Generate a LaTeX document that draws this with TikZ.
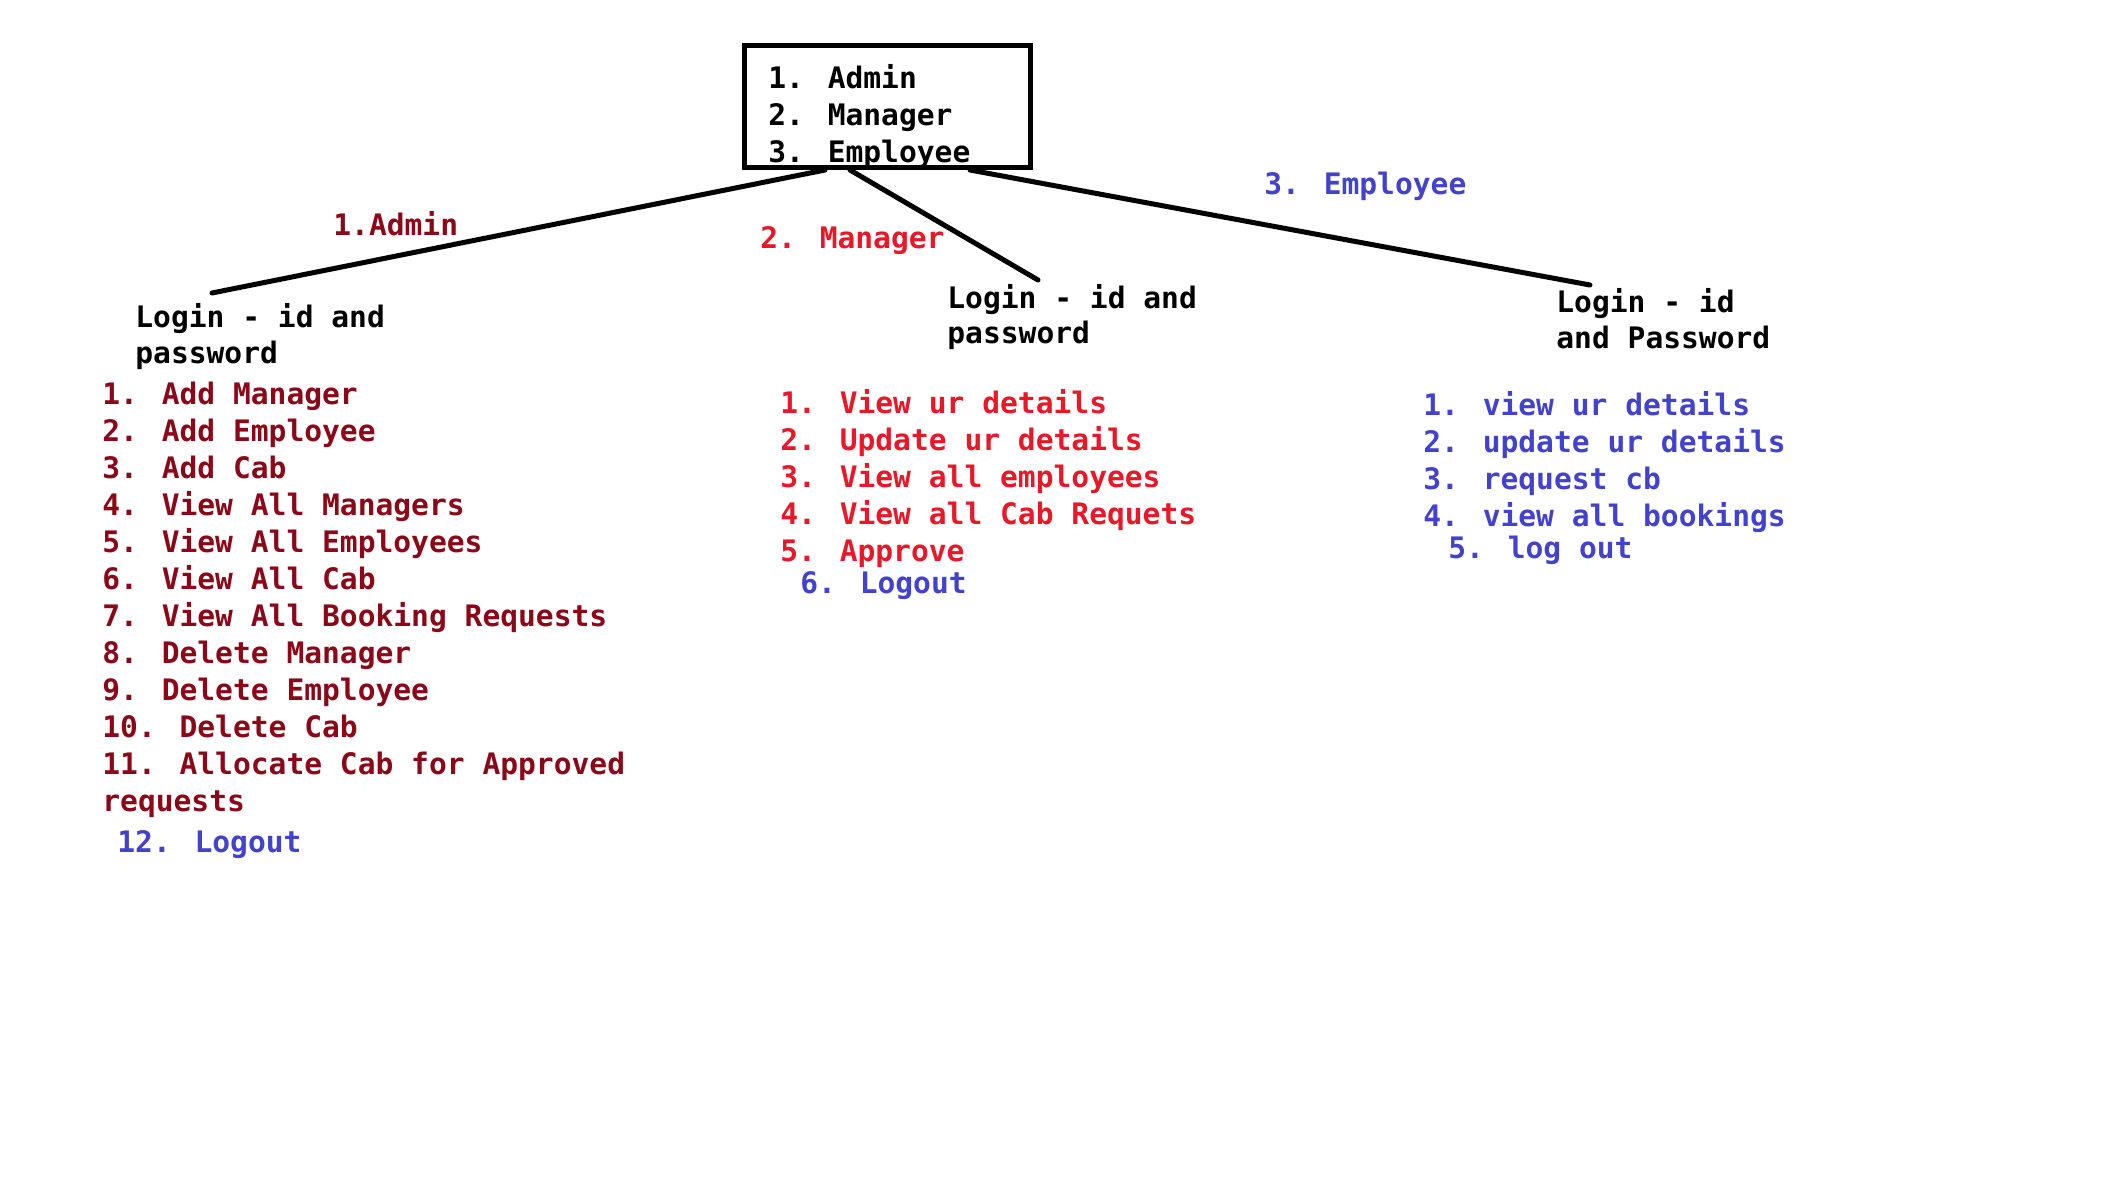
\documentclass[tikz,border=0pt]{standalone}
\usepackage{fontspec}
\newfontfamily\cons{DejaVu Sans Mono}
\definecolor{adred}{RGB}{139,8,24}
\definecolor{mgred}{RGB}{232,24,40}
\definecolor{emblue}{RGB}{66,66,204}
\begin{document}
\begin{tikzpicture}[x=0.5pt,y=-0.5pt,
  txt/.style={anchor=base west, inner sep=0pt, font=\cons\bfseries\fontsize{14.8pt}{18.5pt}\selectfont},
  conn/.style={line width=2.5pt, line cap=round}]
\useasboundingbox (0,0) rectangle (2101,1195);
% top box
\node[draw, line width=2.5pt, minimum width=143pt, minimum height=61pt, inner sep=0pt, outer sep=0pt, anchor=north west] (box) at (744.5,45.5) {};
\node[txt] (b1) at (768,88) {1. Admin};
\node[txt] (b2) at (768,125) {2. Manager};
\node[txt] (b3) at (768,162) {3. Employee};
% connector end points
\coordinate (sA) at (825,170);
\coordinate (sM) at (850,170);
\coordinate (sE) at (970,170);
\coordinate (eA) at (212,293);
\coordinate (eM) at (1038,280);
\coordinate (eE) at (1590,285);
\draw[conn] (sA) -- (eA);
\draw[conn] (sM) -- (eM);
\draw[conn] (sE) -- (eE);
% branch labels
\node[txt, text=adred] (lA) at (333,235) {1.Admin};
\node[txt, text=mgred] (lM) at (760,248) {2. Manager};
\node[txt, text=emblue] (lE) at (1264,194) {3. Employee};
% login texts
\node[txt] (loginA1) at (135,327) {Login - id and};
\node[txt] (loginA2) at (135,363) {password};
\node[txt] (loginM1) at (947,308) {Login - id and};
\node[txt] (loginM2) at (947,343) {password};
\node[txt] (loginE1) at (1556,312) {Login - id};
\node[txt] (loginE2) at (1556,348) {and Password};
% admin list
\foreach \t [count=\i] in {1. Add Manager,2. Add Employee,3. Add Cab,4. View All Managers,5. View All Employees,6. View All Cab,7. View All Booking Requests,8. Delete Manager,9. Delete Employee,10. Delete Cab,11. Allocate Cab for Approved,requests}
  \node[txt, text=adred] (ad\i) at (102,{394+37*(\i-1)+10}) {\t};
\node[txt, text=emblue] (ad13) at (117,852) {12. Logout};
% manager list
\foreach \t [count=\i] in {1. View ur details,2. Update ur details,3. View all employees,4. View all Cab Requets,5. Approve}
  \node[txt, text=mgred] (mg\i) at (780,{403+37*(\i-1)+10}) {\t};
\node[txt, text=emblue] (mg6) at (800,593) {6. Logout};
% employee list
\foreach \t [count=\i] in {1. view ur details,2. update ur details,3. request cb,4. view all bookings}
  \node[txt, text=emblue] (em\i) at (1423,{405+37*(\i-1)+10}) {\t};
\node[txt, text=emblue] (em5) at (1448,558) {5. log out};
\end{tikzpicture}
\end{document}
